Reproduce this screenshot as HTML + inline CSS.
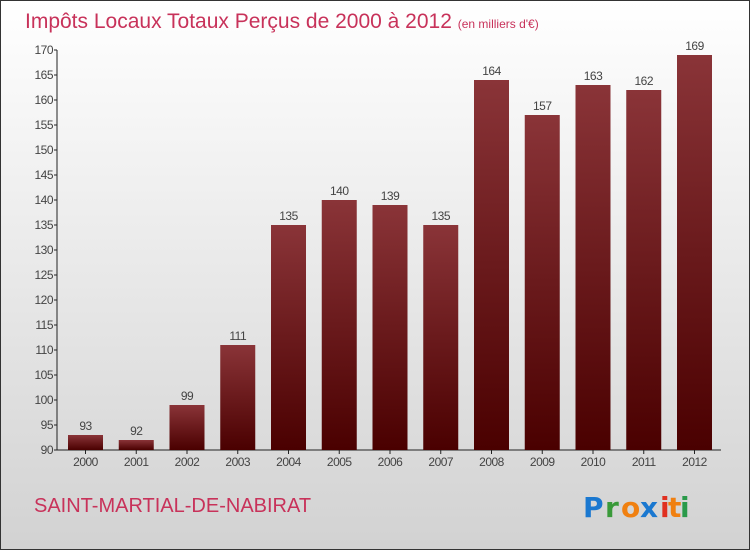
<!DOCTYPE html>
<html><head><meta charset="utf-8"><style>
body{margin:0}
#c{width:748px;height:548px;border:1px solid #333;background:linear-gradient(#ffffff,#d2d2d2);position:relative;font-family:"Liberation Sans",sans-serif;overflow:hidden}
</style></head><body>
<div id="c">
<svg width="748" height="548" xmlns="http://www.w3.org/2000/svg">
<defs><linearGradient id="bg" x1="0" y1="0" x2="0" y2="1"><stop offset="0" stop-color="#8a3438"/><stop offset="1" stop-color="#4a0000"/></linearGradient></defs>
<text x="24" y="27" font-size="21" fill="#c8325a">Impôts Locaux Totaux Perçus de 2000 à 2012 <tspan font-size="12">(en milliers d'€)</tspan></text>
<g id="plot"></g>
<text x="33" y="511" font-size="20" fill="#c8325a">SAINT-MARTIAL-DE-NABIRAT</text>
<g font-size="28" font-family="'DejaVu Sans',sans-serif" font-weight="bold">
<text x="582" y="516" fill="#1a78d0">P</text><text x="604" y="516" fill="#3a9a3a">r</text><text x="620" y="516" fill="#f08010">o</text><text x="639" y="516" fill="#1a78d0">x</text><text x="659" y="516" fill="#e03020">i</text><text x="667" y="516" fill="#f08010">t</text><text x="679" y="516" fill="#2a9a4a">i</text>
</g>
</svg>
</div>
<script>
const years=["2000","2001","2002","2003","2004","2005","2006","2007","2008","2009","2010","2011","2012"];
const values=[93,92,99,111,135,140,139,135,164,157,163,162,169];
const yTicks=[90,95,100,105,110,115,120,125,130,135,140,145,150,155,160,165,170];
const NS="http://www.w3.org/2000/svg";
const g=document.getElementById('plot');
const y0=449,yMin=90,yMax=170,yTop=49;
const yS=v=>y0-(v-yMin)/(yMax-yMin)*(y0-yTop);
const xC=i=>84.5+i*50.75;
function mk(t,a){const e=document.createElementNS(NS,t);for(const k in a)e.setAttribute(k,a[k]);g.appendChild(e);return e;}
let ax=mk('line',{x1:56,y1:yTop,x2:56,y2:y0,stroke:'#222'});


let xa=mk('line',{x1:56,y1:y0,x2:720,y2:y0,stroke:'#222'});


yTicks.forEach(v=>{
 const y=yS(v);
 mk('line',{x1:53,y1:y,x2:56,y2:y,stroke:'#222'});
 const t=mk('text',{x:52,y:y+4,'font-size':12,'text-anchor':'end',fill:'#444','letter-spacing':'-0.5'});
 t.textContent=v;
 
 
});
years.forEach((yr,i)=>{
 const c=xC(i),v=values[i];
 const r=mk('rect',{x:c-17.5,y:yS(v),width:35,height:y0-yS(v),fill:'url(#bg)'});
 
 
 mk('line',{x1:c,y1:y0,x2:c,y2:y0+4,stroke:'#222'});
 const l=mk('text',{x:c,y:yS(v)-5,'font-size':12,'text-anchor':'middle',fill:'#444','letter-spacing':'-0.5'});
 l.textContent=v;
 
 
 const xl=mk('text',{x:c,y:y0+16,'font-size':12,'text-anchor':'middle',fill:'#444','letter-spacing':'-0.5'});
 xl.textContent=yr;
 
 
});
</script>
</body></html>
